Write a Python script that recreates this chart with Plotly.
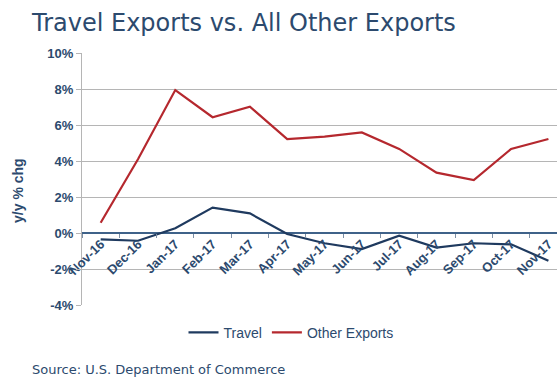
import plotly.graph_objects as go

months = ["Nov-16", "Dec-16", "Jan-17", "Feb-17", "Mar-17", "Apr-17", "May-17",
          "Jun-17", "Jul-17", "Aug-17", "Sep-17", "Oct-17", "Nov-17"]
travel = [-0.35, -0.43, 0.26, 1.41, 1.09, -0.06, -0.57, -0.89, -0.15, -0.81, -0.57, -0.63, -1.54]
other_exports = [0.57, 4.1, 7.94, 6.43, 7.02, 5.22, 5.35, 5.59, 4.67, 3.35, 2.94, 4.67, 5.22]
y_ticks = [-4, -2, 0, 2, 4, 6, 8, 10]
y_tick_labels = [f"{v}%" for v in y_ticks]

text_col = "#2c4a6e"
navy = "#1f3a5f"
red = "#b5282e"

fig = go.Figure()
fig.add_trace(go.Scatter(x=months, y=travel, mode="lines", name="Travel",
                         line=dict(color=navy, width=2.2)))
fig.add_trace(go.Scatter(x=months, y=other_exports, mode="lines", name="Other Exports",
                         line=dict(color=red, width=2.2)))

fig.update_layout(
    width=557, height=380,
    margin=dict(l=82, r=0, t=53, b=75),
    plot_bgcolor="white", paper_bgcolor="white",
    showlegend=True,
    title=dict(text="Travel Exports vs. All Other Exports", xref="container", yref="container",
               x=32/557, xanchor="left", y=1-23/380, yanchor="middle",
               font=dict(family="DejaVu Sans", size=24, color=text_col)),
    legend=dict(orientation="h", x=0.44, xanchor="center", y=-0.11, yanchor="middle",
                font=dict(family="Liberation Sans", size=14, color=text_col),
                itemwidth=30, tracegroupgap=0),
    xaxis=dict(type="category", range=[-0.5, 12.23], anchor="free", position=4/14,
               showline=False, showgrid=False, tickangle=-45,
               ticks="outside", tickson="boundaries", ticklen=4, tickcolor="#7d8fa5",
               tickfont=dict(family="Liberation Sans", size=13, color=text_col, weight="bold")),
    yaxis=dict(range=[-4, 10], tickvals=y_ticks, ticktext=y_tick_labels,
               showgrid=True, gridcolor="#b5b5b5", gridwidth=1.3,
               zeroline=True, zerolinecolor="#3f6289", zerolinewidth=1.5,
               showline=True, linecolor="#b5b5b5", linewidth=1.3,
               ticks="outside", ticklen=5, tickcolor="#b5b5b5",
               tickfont=dict(family="Liberation Sans", size=13, color=text_col, weight="bold")),
    annotations=[
        dict(text="y/y % chg", textangle=-90, xref="paper", yref="paper",
             x=-0.135, y=0.456, xanchor="center", yanchor="middle", showarrow=False,
             font=dict(family="Liberation Sans", size=14, color=text_col, weight="bold")),
        dict(text="Source: U.S. Department of Commerce", xref="paper", yref="paper",
             x=(30-82)/475, y=(305-369)/252, xanchor="left", yanchor="middle", showarrow=False,
             font=dict(family="DejaVu Sans", size=13, color=text_col)),
    ],
)

fig.write_html("out.html")
